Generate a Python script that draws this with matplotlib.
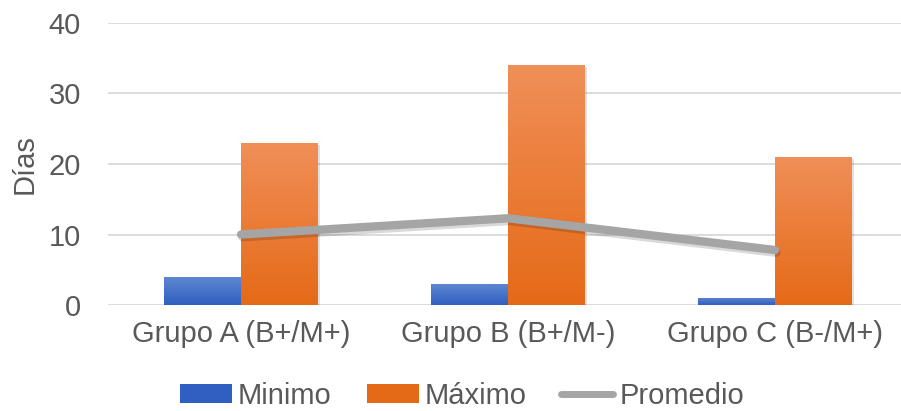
import numpy as np
import matplotlib.pyplot as plt
import matplotlib.patheffects as pe
from matplotlib.colors import LinearSegmentedColormap
from matplotlib.patches import Patch
from matplotlib.lines import Line2D

plt.rcParams['font.family'] = ['Liberation Sans', 'DejaVu Sans']

grupos = ['Grupo A (B+/M+)', 'Grupo B (B+/M-)', 'Grupo C (B-/M+)']
minimo = [4, 3, 1]
maximo = [23, 34, 21]
promedio = [10, 12.3, 7.8]

gris_txt = '#595959'
azul_top, azul_bot = '#6088D2', '#2F5FC0'
naranja_top, naranja_bot = '#F08F58', '#E56A17'
gris_linea = '#A5A5A5'

fig = plt.figure(figsize=(9.01, 4.11), dpi=100)
ax = fig.add_axes([107.5 / 901, 1 - 305 / 411, 801 / 901, 282 / 411])

x = np.arange(len(grupos))
w = 0.288


def gradiente(bars, top, bot):
    cmap = LinearSegmentedColormap.from_list('g', [bot, top])
    grad = np.linspace(0, 1, 256).reshape(-1, 1)
    for b in bars:
        x0, y0 = b.get_x(), b.get_y()
        x1, y1 = x0 + b.get_width(), y0 + b.get_height()
        im = ax.imshow(grad, cmap=cmap, origin='lower', aspect='auto',
                       extent=[x0, x1, y0, y1], zorder=2)
        im.set_clip_path(b)
        b.set_facecolor('none')


sombra = [pe.SimplePatchShadow(offset=(1.5, -1.5), shadow_rgbFace='k', alpha=0.12), pe.Normal()]
b1 = ax.bar(x - w / 2, minimo, w, color=azul_bot, zorder=2, linewidth=0, path_effects=sombra)
b2 = ax.bar(x + w / 2, maximo, w, color=naranja_bot, zorder=2, linewidth=0, path_effects=sombra)
gradiente(b1, azul_top, azul_bot)
gradiente(b2, naranja_top, naranja_bot)

ax.plot(x, promedio, color=gris_linea, lw=6, solid_capstyle='round', solid_joinstyle='round', zorder=4,
        path_effects=[pe.SimpleLineShadow(offset=(1, -2), shadow_color='k', alpha=0.15), pe.Normal()])

ax.set_xlim(-0.5, 2.5)
ax.set_ylim(0, 40)
ax.set_yticks([0, 10, 20, 30, 40])
ax.yaxis.grid(True, color='#D9D9D9', lw=1.3, zorder=0)
ax.set_axisbelow(True)
for s in ax.spines.values():
    s.set_visible(False)
ax.tick_params(axis='both', length=0, labelsize=21, labelcolor=gris_txt)
ax.tick_params(axis='y', pad=19)
ax.tick_params(axis='x', pad=11)
ax.set_xticks(x)
ax.set_xticklabels(grupos)
ax.set_ylabel('Días', fontsize=21, color=gris_txt, labelpad=7)

handles = [Patch(facecolor=azul_bot, edgecolor='none'),
           Patch(facecolor=naranja_bot, edgecolor='none'),
           Line2D([0], [0], color=gris_linea, lw=5, solid_capstyle='round')]
fig.legend(handles, ['Minimo', 'Máximo', 'Promedio'], loc='center', bbox_to_anchor=(462 / 901, 1 - 396 / 411),
           ncol=3, frameon=False, fontsize=21, labelcolor=gris_txt, handlelength=1.78, handleheight=0.6,
           handletextpad=0.2, columnspacing=1.2, borderpad=0)

fig.savefig('out.png', dpi=100)
